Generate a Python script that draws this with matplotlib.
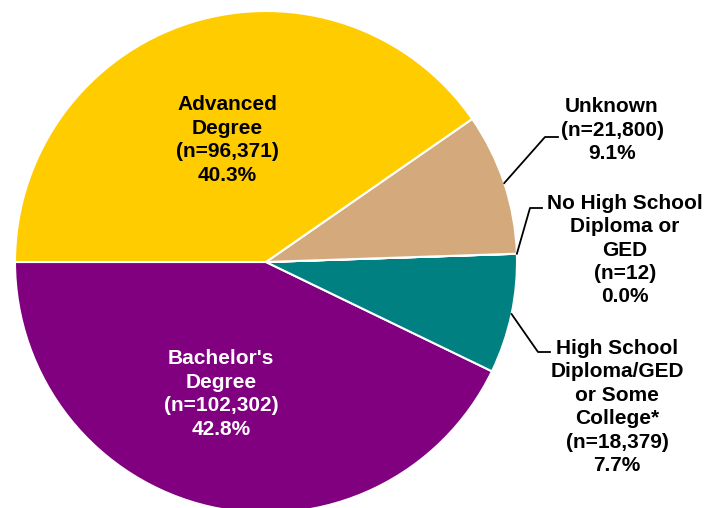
import numpy as np
import matplotlib.pyplot as plt

# data, in drawing order (counterclockwise from the left)
labels = ["Bachelor's\nDegree", "High School\nDiploma/GED\nor Some\nCollege*",
          "No High School\nDiploma or\nGED", "Unknown", "Advanced\nDegree"]
counts = [102302, 18379, 12, 21800, 96371]
pcts = [42.8, 7.7, 0.0, 9.1, 40.3]
colors = ['#800080', '#008080', '#008080', '#D4AA7D', '#FFCC00']

plt.rcParams['font.family'] = ['Liberation Sans', 'DejaVu Sans']

W, H = 708, 508
fig = plt.figure(figsize=(W / 100, H / 100), dpi=100)
ax = fig.add_axes([0, 0, 1, 1])

cx, cy, r = 266, H - 262, 251
wedges, _ = ax.pie(counts, colors=colors, startangle=180, center=(cx, cy), radius=r,
                   wedgeprops=dict(edgecolor='white', linewidth=1.5), frame=True)
ax.set_xlim(0, W)
ax.set_ylim(0, H)
ax.set_aspect('equal')
ax.axis('off')

def label_text(i):
    return "%s\n(n=%s)\n%.1f%%" % (labels[i], format(counts[i], ','), pcts[i])

# labels inside the big slices
txt = dict(fontsize=15, fontweight='bold', ha='center', va='center', linespacing=1.29)
ax.text(227, H - 140, label_text(4), color='black', **txt)
ax.text(221, H - 394, label_text(0), color='white', **txt)

# outside labels with elbow leader lines
outside = [(3, (612, 130), (545, 137), 558),
           (2, (625, 250), (530, 208), 542),
           (1, (617, 407), (538, 352), 550)]
for i, tpos, elbow, xend in outside:
    w = wedges[i]
    mid = np.deg2rad((w.theta1 + w.theta2) / 2)
    px, py = cx + r * np.cos(mid), cy + r * np.sin(mid)
    ex, ey = elbow[0], H - elbow[1]
    ax.plot([px, ex, xend], [py, ey, ey], color='black', lw=1.3)
    ax.text(tpos[0], H - tpos[1], label_text(i), color='black', **txt)

fig.savefig('out.png', dpi=100)
